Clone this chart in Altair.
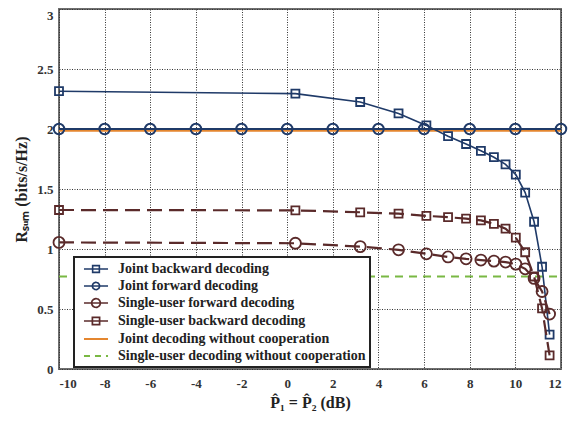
import altair as alt
import pandas as pd

# ---- data ----
x_pts = [-10, 0.36, 3.2, 4.88, 6.1, 7.05, 7.84, 8.49, 9.06, 9.57, 10.02, 10.43, 10.82, 11.17, 11.5]
joint_backward = [2.315, 2.295, 2.225, 2.13, 2.03, 1.94, 1.875, 1.818, 1.765, 1.705, 1.62, 1.47, 1.227, 0.852, 0.287]
su_backward = [1.325, 1.322, 1.306, 1.294, 1.276, 1.265, 1.253, 1.238, 1.21, 1.169, 1.094, 0.973, 0.771, 0.505, 0.113]
su_forward = [1.055, 1.048, 1.02, 0.993, 0.96, 0.934, 0.918, 0.908, 0.899, 0.891, 0.874, 0.835, 0.755, 0.646, 0.458]
x_fwd = [-10, -8, -6, -4, -2, 0, 2, 4, 6, 8, 10, 12]
joint_forward = [2.0, 2.0, 2.0, 2.0, 2.0, 2.0, 2.0, 2.0, 2.0, 2.0, 2.0, 2.0]
x_nocoop = [-10, 12]
joint_nocoop = [1.985, 1.985]
su_nocoop = [0.77, 0.77]

names = [
    "Joint backward decoding",
    "Joint forward decoding",
    "Single-user forward decoding",
    "Single-user backward decoding",
    "Joint decoding without cooperation",
    "Single-user decoding without cooperation",
]

NAVY = "#1f3a68"
BROWN = "#5a2a2a"
ORANGE = "#e4862f"
GREEN = "#79b843"

xs = alt.Scale(domain=[-10, 12], nice=False, zero=False)
ys = alt.Scale(domain=[0, 3], nice=False, zero=False)

x_axis = alt.Axis(values=list(range(-10, 13, 2)), title="P̂₁ = P̂₂ (dB)",
                  labelExpr="'' + datum.value", titlePadding=4, labelPadding=8)
y_axis = alt.Axis(values=[0, 0.5, 1, 1.5, 2, 2.5, 3], format="~g",
                  title="Rₛᵤₘ  (bits/s/Hz)", titlePadding=7, labelPadding=6,
                  labelOffset={"condition": {"test": "datum.value == 3", "value": 6}, "value": 0})

X = alt.X("x:Q", scale=xs, axis=x_axis)
Y = alt.Y("y:Q", scale=ys, axis=y_axis)


def df(x, y):
    return pd.DataFrame({"x": x, "y": y})


def line(x, y, color, width, dash=None):
    kw = dict(color=color, strokeWidth=width)
    if dash:
        kw["strokeDash"] = dash
    return alt.Chart(df(x, y)).mark_line(**kw).encode(x=X, y=Y)


def pts(x, y, color, shape, size, width):
    return alt.Chart(df(x, y)).mark_point(
        shape=shape, size=size, color=color, filled=False, strokeWidth=width, opacity=1
    ).encode(x=X, y=Y)


layers = [
    line(x_nocoop, joint_nocoop, ORANGE, 2),
    line(x_nocoop, su_nocoop, GREEN, 2, dash=[8, 6]),
    line(x_fwd, joint_forward, NAVY, 2.2),
    pts(x_fwd, joint_forward, NAVY, "circle", 110, 2),
    line(x_pts, joint_backward, NAVY, 1.6),
    pts(x_pts, joint_backward, NAVY, "square", 64, 1.8),
    line(x_pts, su_backward, BROWN, 2.2, dash=[15, 7]),
    pts(x_pts, su_backward, BROWN, "square", 64, 1.8),
    line(x_pts, su_forward, BROWN, 2.2, dash=[15, 7]),
    pts(x_pts, su_forward, BROWN, "circle", 121, 1.8),
]

# legend symbols: a short line with the series marker, scaled up beyond the unit box
k = 1.7
def P(v):
    return f"{v * k:.3f}"

sq = f"M{P(-1)},0H{P(1)}M{P(-0.28)},{P(-0.28)}H{P(0.28)}V{P(0.28)}H{P(-0.28)}Z"
ci = f"M{P(-1)},0H{P(1)}M{P(-0.3)},0A{P(0.3)},{P(0.3)},0,1,0,{P(0.3)},0A{P(0.3)},{P(0.3)},0,1,0,{P(-0.3)},0"
ci2 = f"M{P(-1)},0H{P(1)}M{P(-0.36)},0A{P(0.36)},{P(0.36)},0,1,0,{P(0.36)},0A{P(0.36)},{P(0.36)},0,1,0,{P(-0.36)},0"
sq2 = f"M{P(-1)},0H{P(1)}M{P(-0.3)},{P(-0.3)}H{P(0.3)}V{P(0.3)}H{P(-0.3)}Z"
ln = f"M{P(-1)},0H{P(1)}"

LEG = dict(title=None, orient="none", legendX=15, legendY=248)

leg_df = pd.DataFrame({"series": names})
legend_layer = alt.Chart(leg_df).mark_point(filled=False, clip=True, size=200, opacity=1).encode(
    x=alt.value(-300),
    y=alt.value(-300),
    shape=alt.Shape("series:N", sort=names,
                    scale=alt.Scale(domain=names, range=[sq, ci, ci2, sq2, ln, ln]),
                    legend=alt.Legend(**LEG)),
    color=alt.Color("series:N", sort=names,
                    scale=alt.Scale(domain=names, range=[NAVY, NAVY, BROWN, BROWN, ORANGE, GREEN]),
                    legend=alt.Legend(**LEG)),
    strokeDash=alt.StrokeDash("series:N", sort=names,
                              scale=alt.Scale(domain=names, range=[[1, 0], [1, 0], [1, 0], [1, 0], [1, 0], [6, 5]]),
                              legend=alt.Legend(**LEG)),
    strokeWidth=alt.StrokeWidth("series:N", sort=names,
                                scale=alt.Scale(domain=names, range=[1.6, 1.8, 2.4, 2.4, 1.8, 2]),
                                legend=alt.Legend(**LEG)),
)

chart = alt.layer(*layers, legend_layer).properties(
    width=502,
    height=360,
    autosize=alt.AutoSizeParams(type="none"),
    padding={"left": 51, "top": 1, "right": 11, "bottom": 44},
).configure_view(
    stroke="#6e6e6e", strokeWidth=2
).configure_axis(
    domain=False,
    ticks=False,
    grid=True,
    gridColor="#333333",
    gridDash=[1, 1.5],
    gridWidth=1,
    labelFont="Liberation Serif",
    labelFontSize=13,
    labelFontWeight="bold",
    labelColor="#333333",
    titleFont="Liberation Serif",
    titleFontSize=16,
    titleFontWeight="bold",
    titleColor="#222222",
).configure_legend(
    fillColor="white",
    strokeColor="#222222",
    strokeWidth=2,
    padding=4,
    cornerRadius=0,
    symbolOffset=10,
    symbolSize=200,
    symbolFillColor="transparent",
    labelFont="Liberation Serif",
    labelFontSize=14,
    labelFontWeight="bold",
    labelColor="#222222",
    labelOffset=14,
    rowPadding=2,
    labelLimit=400,
)

chart.save("out.html", embed_options={"renderer": "svg", "actions": False})
